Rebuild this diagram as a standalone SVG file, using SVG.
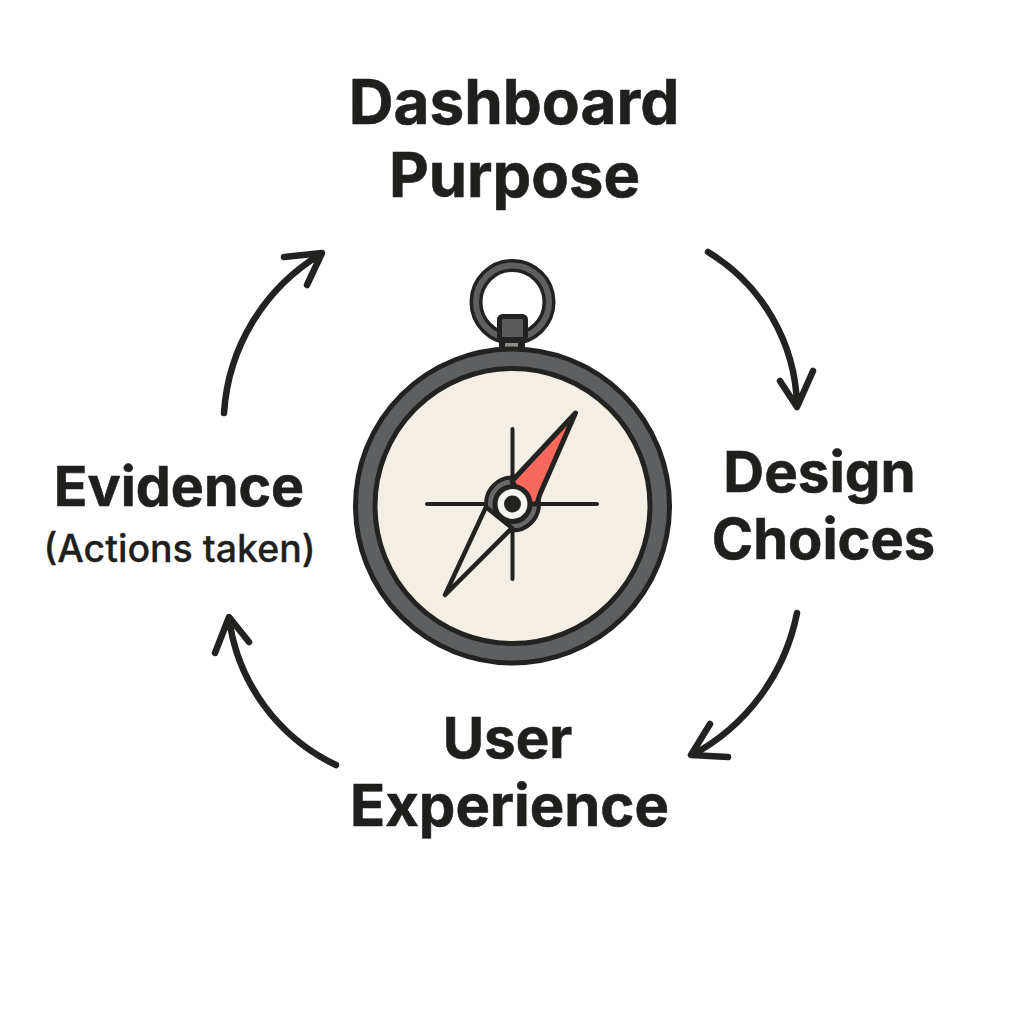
<svg xmlns="http://www.w3.org/2000/svg" width="1024" height="1024" viewBox="0 0 1024 1024">
<style>
.t{font-family:"Inter","Liberation Sans",sans-serif;font-weight:700;fill:#1f1f1d;stroke:#1f1f1d;stroke-width:.6;text-anchor:middle}
.c{fill:none;stroke:#222220;stroke-width:6.500;stroke-linecap:round;stroke-linejoin:round}
.d{stroke:#222220}
</style>
<rect width="1024" height="1024" fill="#fff"/>
<g id="connectors">
<path class="c" d="M708 252A185 185 0 0 1 797 406M780 381L797 407L813 371"/>
<path class="c" d="M797 613A206 206 0 0 1 692 755M710 724L691 755L728 757"/>
<path class="c" d="M336 765A190 190 0 0 1 229 618M215 653L229 617L249 642"/>
<path class="c" d="M224 413A200 200 0 0 1 321 254M284 257L322 253L307 285"/>
</g>
<g id="compass">
<circle cx="512.500" cy="302" r="36.500" fill="none" stroke="#222220" stroke-width="13"/>
<circle cx="512.500" cy="302" r="36.500" fill="none" stroke="#5e5f60" stroke-width="6"/>
<rect x="499" y="338" width="26" height="12" fill="#222220"/>
<rect x="505" y="343" width="13" height="4" fill="#8a8a88"/>
<rect x="499.500" y="316.500" width="26" height="23" rx="3" fill="#5a5a5a" class="d" stroke-width="5"/>
<circle cx="512.500" cy="506" r="157" fill="#5e5f60" class="d" stroke-width="5"/>
<circle cx="512.500" cy="506" r="137.500" fill="#f3efe6" class="d" stroke-width="5"/>
<path d="M427 504H597M512.500 429V579" class="d" stroke-width="4" stroke-linecap="round" fill="none"/>
<circle cx="512.500" cy="504" r="26.500" fill="#6a6a6a" class="d" stroke-width="4"/>
<path d="M575.500 413L512 481L525 504L537 504Q538 500 540 494Z" fill="#f8695d" class="d" stroke-width="5" stroke-linejoin="round"/>
<path d="M445 595L486 507L512 528Z" fill="#f3efe6" class="d" stroke-width="4.500" stroke-linejoin="round"/>
<circle cx="512.500" cy="504" r="17.500" fill="#f6f4ee" class="d" stroke-width="5"/>
<circle cx="512.500" cy="504" r="8.500" fill="#222220"/>
</g>
<g id="dashboard-purpose"><text class="t" x="514" y="124" font-size="62">Dashboard</text><text class="t" x="514.500" y="197" font-size="61.500">Purpose</text></g>
<g id="design-choices"><text class="t" x="819.500" y="492" font-size="56.500">Design</text><text class="t" x="823.500" y="559" font-size="56">Choices</text></g>
<g id="user-experience"><text class="t" x="507.500" y="758" font-size="56.500">User</text><text class="t" x="509.500" y="826" font-size="58">Experience</text></g>
<g id="evidence"><text class="t" x="179" y="506" font-size="55.500">Evidence</text><text class="t" x="179.500" y="562" font-size="37.500" style="font-weight:500;stroke-width:.3">(Actions taken)</text></g>
</svg>
